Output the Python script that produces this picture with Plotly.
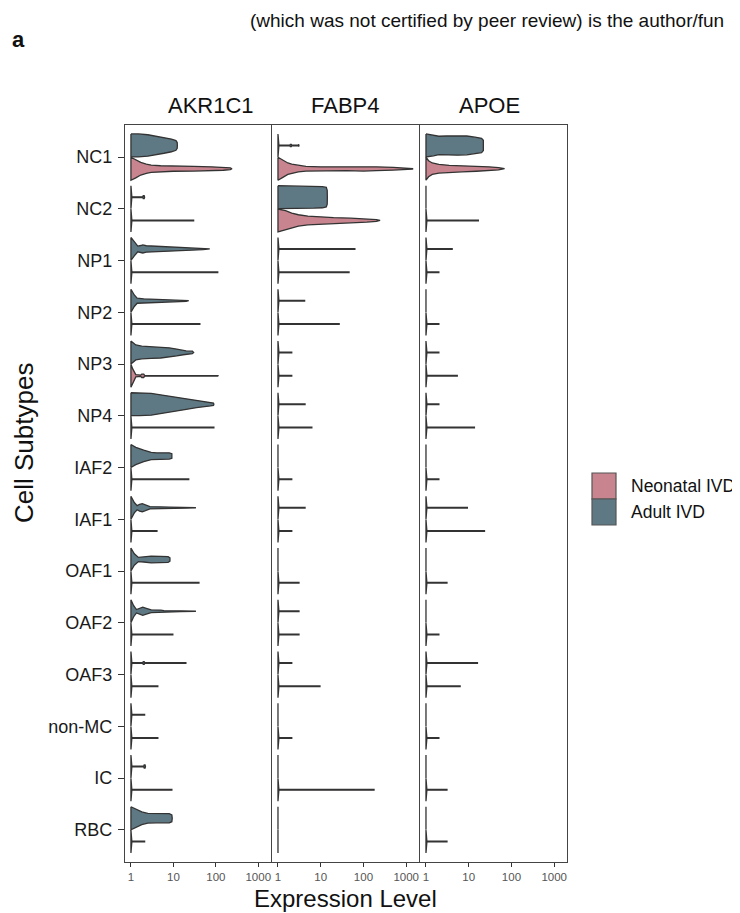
import plotly.graph_objects as go

# ---------------- data ----------------
categories = ["NC1", "NC2", "NP1", "NP2", "NP3", "NP4", "IAF2", "IAF1",
              "OAF1", "OAF2", "OAF3", "non-MC", "IC", "RBC"]
genes = ["AKR1C1", "FABP4", "APOE"]
group_names = ["Neonatal IVD", "Adult IVD"]
x_tick_values = [1, 10, 100, 1000]
x_tick_labels = ["1", "10", "100", "1000"]

# Each violin outline: list of (expression level, relative half-width) pairs.
# A plain number = violin collapsed to the spike at 1 plus a thin tail reaching that level.
# None = only the spike at expression level 1.
akr1c1_adult = [
    [(1, 1), (1.5, 1), (2.5, 0.93), (4, 0.8), (6, 0.68), (9, 0.55), (11.5, 0.42), (12.3, 0.25), (12.4, 0)],
    [(1, 1), (1.05, 0.03), (1.9, 0.03), (1.95, 0.13), (2.05, 0.13), (2.1, 0)],
    [(1, 1), (1.2, 0.6), (1.45, 0.25), (1.7, 0.3), (1.9, 0.35), (2.3, 0.28), (3.5, 0.25), (6, 0.2), (12, 0.15), (25, 0.1), (50, 0.06), (72, 0)],
    [(1, 1), (1.2, 0.5), (1.4, 0.22), (2, 0.16), (4, 0.12), (10, 0.08), (20, 0.05), (23, 0)],
    [(1, 1), (1.3, 0.65), (1.8, 0.55), (3, 0.52), (5, 0.48), (8, 0.4), (12, 0.3), (17, 0.2), (20, 0.13), (28, 0.11), (30, 0)],
    [(1, 1), (1.6, 1), (3, 0.95), (5, 0.82), (10, 0.65), (20, 0.45), (35, 0.3), (55, 0.2), (75, 0.15), (88, 0.1), (90, 0)],
    [(1, 1), (1.3, 0.75), (2, 0.5), (3, 0.32), (4, 0.27), (8, 0.27), (9.2, 0.2), (9.3, 0)],
    [(1, 1), (1.2, 0.45), (1.4, 0.18), (1.6, 0.3), (1.85, 0.35), (2.2, 0.25), (2.8, 0.1), (8, 0.06), (20, 0.04), (34, 0)],
    [(1, 1), (1.2, 0.5), (1.5, 0.18), (2, 0.22), (3, 0.3), (5, 0.27), (7.5, 0.25), (8.3, 0.15), (8.4, 0)],
    [(1, 1), (1.15, 0.5), (1.35, 0.15), (1.6, 0.25), (1.9, 0.35), (2.3, 0.25), (3, 0.12), (5, 0.1), (6, 0.05), (15, 0.04), (34, 0)],
    [(1, 1), (1.05, 0.03), (1.9, 0.03), (1.95, 0.12), (2.05, 0.12), (2.1, 0.04), (19.7, 0.03), (20, 0)],
    2.1,
    [(1, 1), (1.05, 0.03), (2.0, 0.03), (2.05, 0.13), (2.15, 0.13), (2.2, 0)],
    [(1, 1), (1.3, 0.8), (1.8, 0.55), (2.5, 0.42), (4, 0.4), (8, 0.4), (9.2, 0.3), (9.4, 0)],
]
akr1c1_neonatal = [
    [(1, 1), (1.3, 0.8), (1.7, 0.55), (2.3, 0.4), (3, 0.32), (5, 0.26), (10, 0.22), (30, 0.2), (80, 0.17), (150, 0.13), (220, 0.08), (240, 0)],
    30, 111, 42,
    [(1, 1), (1.1, 0.6), (1.3, 0.1), (1.7, 0.05), (1.8, 0.15), (2.0, 0.15), (2.1, 0.04), (111, 0.03), (112, 0)],
    90, 23, 4.1, 40, 9.7, 4.3, 4.3, 9.2, 2.1,
]
fabp4_adult = [
    [(1, 1), (1.05, 0.03), (1.9, 0.03), (1.95, 0.1), (2.05, 0.1), (2.1, 0.03), (3.0, 0.03), (3.05, 0.1), (3.1, 0)],
    [(1, 1), (3, 0.98), (7, 0.95), (11, 0.92), (13.5, 0.85), (14.2, 0.6), (14.3, 0)],
    63, 4.2, 2.1, 4.3, None, 4.3, None, 3.1, 2.1, None, None, None,
]
fabp4_neonatal = [
    [(1, 1), (1.3, 0.75), (1.7, 0.5), (2.1, 0.4), (3, 0.28), (4.5, 0.2), (10, 0.17), (40, 0.17), (100, 0.2), (200, 0.17), (500, 0.12), (1000, 0.08), (1400, 0.04), (1450, 0)],
    [(1, 1), (1.5, 0.85), (2.1, 0.65), (3, 0.5), (5, 0.38), (10, 0.3), (20, 0.25), (50, 0.2), (120, 0.14), (200, 0.08), (245, 0)],
    46, 27, 2.1, 6.2, 2.1, 2.1, 3.1, 3.1, 9.6, 2.1, 177, None,
]
apoe_adult = [
    [(1, 1), (1.5, 0.9), (2, 0.8), (3, 0.82), (5.5, 0.85), (9, 0.82), (14, 0.72), (20, 0.62), (22, 0.45), (22.3, 0)],
    None, 4.1, None, 2.0, 2.0, None, 9.3, None, None, 16, None, None, None,
]
apoe_neonatal = [
    [(1, 1), (1.15, 0.7), (1.4, 0.5), (2, 0.38), (3.5, 0.3), (7, 0.27), (15, 0.22), (30, 0.17), (50, 0.1), (69, 0)],
    16.8, 2.0, 2.0, 5.4, 13.6, 2.0, 23.4, 3.1, 2.0, 6.3, 2.0, 3.1, 3.1,
]

# ---------------- styling ----------------
PAGE_OFFSET = 8            # page body margin: figure starts 8px in from the page corner
W, H = 740 - PAGE_OFFSET, 913 - PAGE_OFFSET
NEO_COLOR = "#C8858F"
ADULT_COLOR = "#5F7984"
EDGE = "#333333"
HALF = 0.222     # half of a violin's maximum width (category units)
OFFSET = 0.225   # dodge offset of each group from the category line
FONT = "Liberation Sans, Arial, Helvetica, sans-serif"

panels_px = [(125, 271), (272, 419), (420, 567)]   # page pixels
plot_top, plot_bottom = 125, 862


def px_x(p):
    return (p - PAGE_OFFSET) / W


def px_y(p):
    return 1 - (p - PAGE_OFFSET) / H


def outline(profile):
    if profile is None:
        return [(1, 1), (1.02, 0)]
    if isinstance(profile, (int, float)):
        return [(1, 1), (1.05, 0.03), (profile, 0.03)]
    return profile


fig = go.Figure()
panel_data = [(akr1c1_adult, akr1c1_neonatal), (fabp4_adult, fabp4_neonatal), (apoe_adult, apoe_neonatal)]

for gi, (adult, neo) in enumerate(panel_data):
    xa = "x" if gi == 0 else f"x{gi + 1}"
    ya = "y" if gi == 0 else f"y{gi + 1}"
    for ci in range(len(categories)):
        for prof, off, color, name in [(adult[ci], -OFFSET, ADULT_COLOR, group_names[1]),
                                       (neo[ci], OFFSET, NEO_COLOR, group_names[0])]:
            pts = outline(prof)
            c = ci + off
            xs = [p[0] for p in pts] + [p[0] for p in reversed(pts)] + [pts[0][0]]
            ys = ([c - HALF * p[1] for p in pts] + [c + HALF * p[1] for p in reversed(pts)]
                  + [c - HALF * pts[0][1]])
            fig.add_trace(go.Scatter(
                x=xs, y=ys, mode="lines", fill="toself", fillcolor=color,
                line=dict(color=EDGE, width=1.3), xaxis=xa, yaxis=ya,
                name=name, showlegend=False, hoverinfo="skip"))

layout = dict(
    width=W, height=H, margin=dict(l=0, r=0, t=0, b=0),
    paper_bgcolor="white", plot_bgcolor="white",
    font=dict(family=FONT, color="#111111"),
)
ydom = [px_y(plot_bottom), px_y(plot_top)]
for gi, (x0, x1) in enumerate(panels_px):
    sfx = "" if gi == 0 else str(gi + 1)
    layout["xaxis" + sfx] = dict(
        type="log", range=[-0.14, 3.3], domain=[px_x(x0), px_x(x1)],
        tickvals=x_tick_values, ticktext=x_tick_labels,
        ticks="outside", ticklen=4, tickwidth=1, tickcolor="#333333",
        tickfont=dict(size=11.5, color="#555555", family=FONT),
        showgrid=False, zeroline=False, showline=True, mirror=True,
        linecolor="#444444", linewidth=1.3, anchor="y" + sfx,
    )
    layout["yaxis" + sfx] = dict(
        range=[13.62, -0.62], domain=ydom,
        tickvals=list(range(len(categories))), ticktext=categories,
        ticks="outside" if gi == 0 else "", ticklen=6, tickwidth=1, tickcolor="#333333",
        showticklabels=(gi == 0), ticklabelstandoff=2,
        tickfont=dict(size=18, color="#1a1a1a", family=FONT),
        showgrid=False, zeroline=False, showline=True, mirror=True,
        linecolor="#444444", linewidth=1.3, anchor="x" + sfx,
        matches=None if gi == 0 else "y",
    )
fig.update_layout(**layout)

annotations = []
title_centers = [211, 345, 489]
for gene, cx in zip(genes, title_centers):
    annotations.append(dict(text=gene, x=px_x(cx), y=px_y(105.5), xref="paper", yref="paper",
                            showarrow=False, xanchor="center", yanchor="middle",
                            font=dict(size=22, color="#111111", family=FONT)))
annotations.append(dict(text="Expression Level", x=px_x(345), y=px_y(898), xref="paper", yref="paper",
                        showarrow=False, xanchor="center", yanchor="middle",
                        font=dict(size=24, color="#111111", family=FONT)))
annotations.append(dict(text="Cell Subtypes", x=px_x(24), y=px_y(443), xref="paper", yref="paper",
                        showarrow=False, xanchor="center", yanchor="middle", textangle=-90,
                        borderpad=0,
                        font=dict(size=26, color="#111111", family=FONT)))
annotations.append(dict(text="<b>a</b>", x=px_x(10), y=px_y(39), xref="paper", yref="paper",
                        showarrow=False, xanchor="left", yanchor="middle",
                        font=dict(size=22, color="#111111", family=FONT)))
annotations.append(dict(text="(which was not certified by peer review) is the author/fun",
                        x=px_x(248), y=1, xref="paper", yref="paper",
                        showarrow=False, xanchor="left", yanchor="top",
                        font=dict(size=19, color="#111111", family=FONT)))

# legend
shapes = []
legend_items = [(group_names[0], NEO_COLOR, 473, 499), (group_names[1], ADULT_COLOR, 499, 525)]
for name, color, top, bot in legend_items:
    shapes.append(dict(type="rect", xref="paper", yref="paper",
                       x0=px_x(592), x1=px_x(616), y0=px_y(bot), y1=px_y(top),
                       fillcolor=color, line=dict(color="#555555", width=1.2)))
    annotations.append(dict(text=name, x=px_x(629), y=px_y((top + bot) / 2), xref="paper", yref="paper",
                            showarrow=False, xanchor="left", yanchor="middle",
                            font=dict(size=17.5, color="#111111", family=FONT)))

fig.update_layout(annotations=annotations, shapes=shapes)
fig.write_html("out.html")
